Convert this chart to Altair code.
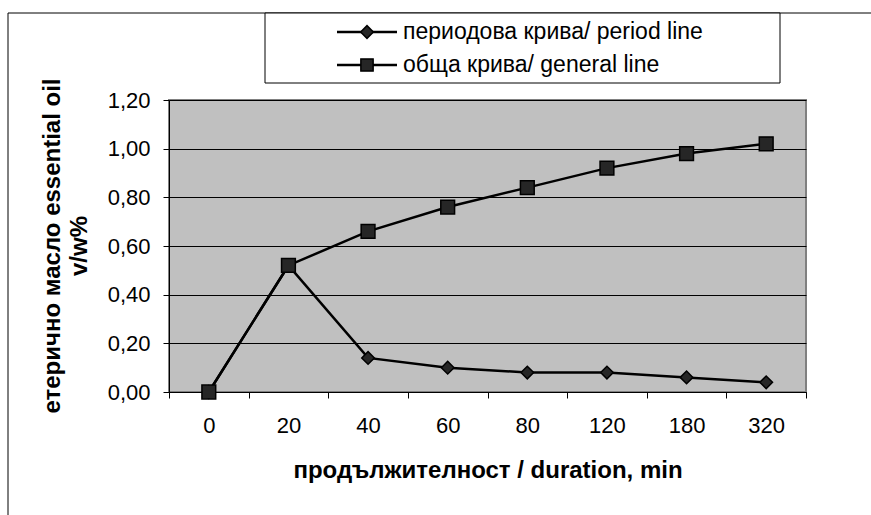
import altair as alt
import pandas as pd

durations = ["0", "20", "40", "60", "80", "120", "180", "320"]
period = [0.0, 0.52, 0.14, 0.10, 0.08, 0.08, 0.06, 0.04]
general = [0.0, 0.52, 0.66, 0.76, 0.84, 0.92, 0.98, 1.02]
series_names = ["периодова крива/ period line", "обща крива/ general line"]
y_ticks = [0.0, 0.2, 0.4, 0.6, 0.8, 1.0, 1.2]
y_title_lines = ["етерично масло essential oil", "v/w%"]
x_title = "продължителност / duration, min"

rows = []
for name, vals in zip(series_names, [period, general]):
    for d, v in zip(durations, vals):
        rows.append({"duration": d, "value": v, "series": name})
df = pd.DataFrame(rows)
legend_df = pd.DataFrame({"series": series_names})

FONT = "Liberation Sans"
W, H = 637, 292
PAD = {"left": 169, "top": 100, "right": 65, "bottom": 123}
MARKER_FILL = "#262626"

x_enc = alt.X(
    "duration:N",
    sort=durations,
    scale=alt.Scale(type="band", domain=durations, paddingInner=0, paddingOuter=0),
    axis=alt.Axis(
        title=x_title,
        titleFont=FONT, titleFontSize=24, titleFontWeight="bold", titleColor="black",
        titleX=W / 2, titleY=85, titleBaseline="alphabetic", titleAlign="center",
        labelFont=FONT, labelFontSize=22, labelColor="black", labelAngle=0,
        labelPadding=17,
        tickBand="extent", tickSize=6, tickColor="black",
        domainColor="black", domainWidth=1, grid=False,
    ),
)
y_scale = alt.Scale(domain=[0, 1.2], nice=False, zero=True)
y_enc = alt.Y(
    "value:Q",
    scale=y_scale,
    axis=alt.Axis(
        title=None,
        values=y_ticks,
        labelExpr="replace(format(datum.value, '.2f'), '.', ',')",
        labelFont=FONT, labelFontSize=22, labelColor="black", labelPadding=13,
        tickSize=6, tickColor="black",
        domainColor="black", domainWidth=1,
        grid=True, gridColor="black", gridWidth=1,
    ),
)
y_enc_noaxis = alt.Y("value:Q", scale=y_scale, axis=None)

shape_scale = alt.Scale(domain=series_names, range=["diamond", "square"])

one = pd.DataFrame({"k": [0]})

outer_top = alt.Chart(one).mark_rule(color="black", strokeWidth=1).encode(
    x=alt.value(-161), x2=alt.value(720), y=alt.value(-87)
)
outer_left = alt.Chart(one).mark_rule(color="black", strokeWidth=1).encode(
    x=alt.value(-161), y=alt.value(-87), y2=alt.value(430)
)
legend_box = alt.Chart(one).mark_rect(fill="white", stroke="black", strokeWidth=1).encode(
    x=alt.value(96), x2=alt.value(611), y=alt.value(-87), y2=alt.value(-17)
)

y_title_1 = alt.Chart(one).mark_text(
    angle=270, align="center", baseline="alphabetic",
    font=FONT, fontSize=24, fontWeight="bold", color="black",
).encode(x=alt.value(-109), y=alt.value(H / 2), text=alt.value(y_title_lines[0]))
y_title_2 = alt.Chart(one).mark_text(
    angle=270, align="center", baseline="alphabetic",
    font=FONT, fontSize=24, fontWeight="bold", color="black",
).encode(x=alt.value(-82), y=alt.value(H / 2), text=alt.value(y_title_lines[1]))

lines = alt.Chart(df).mark_line(color="black", strokeWidth=2.5).encode(
    x=x_enc, y=y_enc, detail="series:N"
)
points = alt.Chart(df).mark_point(
    filled=True, fill=MARKER_FILL, stroke="black", strokeWidth=1.5, opacity=1
).encode(
    x=x_enc, y=y_enc_noaxis,
    shape=alt.Shape("series:N", scale=shape_scale, legend=None),
    size=alt.Size("series:N", scale=alt.Scale(domain=series_names, range=[160, 190]), legend=None),
)

# legend rows placed through a nominal point scale
leg_y = alt.Y(
    "series:N",
    scale=alt.Scale(type="point", domain=series_names, range=[-68, -35], padding=0),
    axis=None,
)
leg_line = alt.Chart(legend_df).mark_rule(color="black", strokeWidth=2.5).encode(
    x=alt.value(168), x2=alt.value(228), y=leg_y
)
leg_marker = alt.Chart(legend_df).mark_point(
    filled=True, fill=MARKER_FILL, stroke="black", strokeWidth=1.5, opacity=1
).encode(
    x=alt.value(198), y=leg_y,
    shape=alt.Shape("series:N", scale=shape_scale, legend=None),
    size=alt.Size("series:N", scale=alt.Scale(domain=series_names, range=[160, 150]), legend=None),
)
leg_text = alt.Chart(legend_df).mark_text(
    align="left", baseline="middle", font=FONT, fontSize=23, color="black"
).encode(x=alt.value(234), y=leg_y, text="series:N")

chart = (
    alt.layer(outer_top, outer_left, legend_box, y_title_1, y_title_2,
              lines, points, leg_line, leg_marker, leg_text)
    .resolve_scale(y="independent", size="independent")
    .properties(width=W, height=H, autosize=alt.AutoSizeParams(type="none"), padding=PAD)
    .configure(font=FONT, background="white")
    .configure_view(fill="#c0c0c0", stroke="#808080", strokeWidth=2)
)

chart.save("out.html", embed_options={"renderer": "svg", "actions": False})
